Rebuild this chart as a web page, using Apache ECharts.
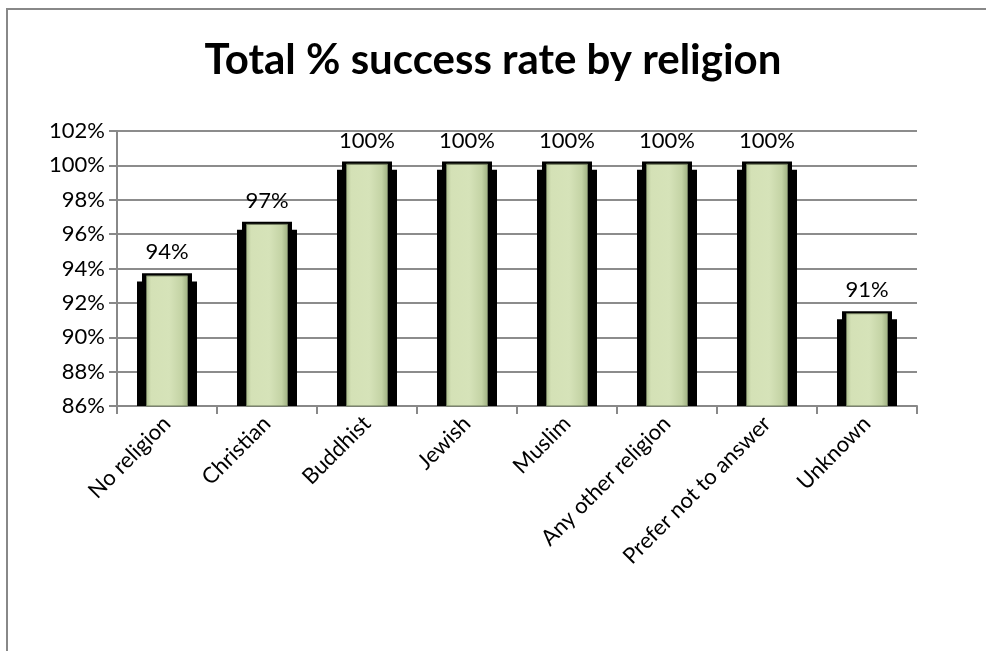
<!DOCTYPE html>
<html><head><meta charset="utf-8">
<script src="https://cdn.jsdelivr.net/npm/echarts@6/dist/echarts.min.js"></script>
<style>html,body{margin:0;padding:0;background:#fff}#c{width:986px;height:651px}</style>
</head><body><div id="c"></div>
<script>
const categories = ['No religion','Christian','Buddhist','Jewish','Muslim','Any other religion','Prefer not to answer','Unknown'];
const successRate = [93.6, 96.6, 100.1, 100.1, 100.1, 100.1, 100.1, 91.4];
const yTicks = {min: 86, max: 102, interval: 2};
const titleText = 'Total % success rate by religion';

const FONT = 'Lato';
const chart = echarts.init(document.getElementById('c'), null, {renderer: 'canvas'});
const green = new echarts.graphic.LinearGradient(0,0,1,0,[
  {offset:0,color:'#aebf8f'},{offset:0.12,color:'#d4e1b6'},{offset:0.55,color:'#d6e3b9'},{offset:0.85,color:'#c4d3a5'},{offset:1,color:'#9fb081'}
]);
chart.setOption({
  animation:false,
  backgroundColor:'#fff',
  title:{text:titleText,left:'center',top:34,textStyle:{fontFamily:FONT,fontWeight:'bold',fontSize:42,color:'#000'}},
  graphic:[{type:'rect',shape:{x:7,y:9,width:1000,height:700},style:{fill:'none',stroke:'#888',lineWidth:2},silent:true,z:-1}],
  grid:{left:117,right:69,top:131,bottom:245,containLabel:false},
  xAxis:[{type:'category',data:categories,
    axisLine:{lineStyle:{color:'#888',width:2}},
    axisTick:{show:true,length:8,alignWithLabel:false,lineStyle:{color:'#888',width:2}},
    axisLabel:{rotate:45,interval:0,fontFamily:FONT,fontSize:22,color:'#000',margin:14}},
   {type:'category',data:categories,show:false},
   {type:'category',data:categories,show:false}],
  yAxis:[{type:'value',min:yTicks.min,max:yTicks.max,interval:yTicks.interval,
    axisLine:{show:true,lineStyle:{color:'#888',width:2}},
    axisTick:{show:true,length:8,lineStyle:{color:'#888',width:2}},
    splitLine:{lineStyle:{color:'#8c8c8c',width:2}},
    axisLabel:{fontFamily:FONT,fontSize:22,color:'#000',margin:12,formatter:v=>v+'%'}},
   {type:'value',min:yTicks.min+0.35,max:yTicks.max+0.35,show:false},
   {type:'value',min:yTicks.min-0.12,max:yTicks.max-0.12,show:false}],
  series:[
    {type:'bar',xAxisIndex:1,yAxisIndex:1,data:successRate,barWidth:60,itemStyle:{color:'#000'},z:2,clip:true,silent:true},
    {type:'bar',xAxisIndex:2,yAxisIndex:2,data:successRate,barWidth:50,itemStyle:{color:'#000'},z:2,clip:true,silent:true},
    {type:'bar',xAxisIndex:0,yAxisIndex:0,data:successRate,barWidth:42,z:3,
      itemStyle:{color:green,borderColor:'#6f7a5c',borderWidth:1},
      label:{show:true,position:'top',distance:12,fontFamily:FONT,fontSize:22,color:'#000',formatter:p=>Math.round(p.value)+'%'}}
  ]
});
</script></body></html>
